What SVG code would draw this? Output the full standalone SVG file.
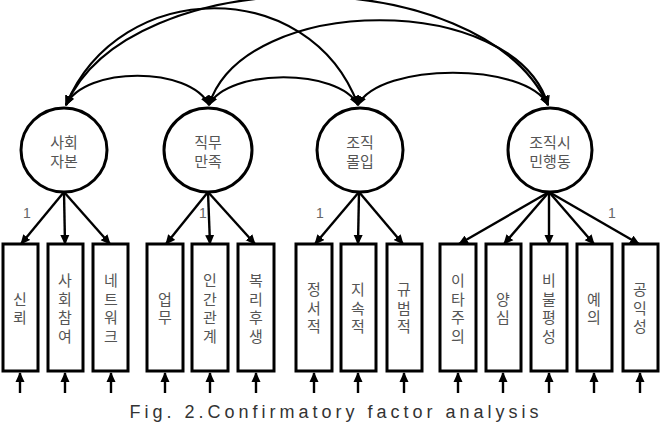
<svg xmlns="http://www.w3.org/2000/svg" width="665" height="426" viewBox="0 0 665 426">
<style>
.ell{fill:#fff;stroke:#000;stroke-width:3}
.box{fill:#fff;stroke:#000;stroke-width:3}
.arc{fill:none;stroke:#000;stroke-width:2.2}
.ld{fill:none;stroke:#000;stroke-width:2.4}
.lbl{font-family:"Noto Sans CJK KR",sans-serif;font-size:15px;fill:#555;text-anchor:middle}
.vt{font-family:"Noto Sans CJK KR",sans-serif;font-size:15px;fill:#555;text-anchor:middle;writing-mode:vertical-rl;text-orientation:upright;letter-spacing:3.5px}
.one{font-family:"Liberation Sans",sans-serif;font-size:14px;fill:#666;text-anchor:middle}
.cap{font-family:"Liberation Sans",sans-serif;font-size:18px;fill:#333;text-anchor:middle;letter-spacing:4px}
</style>
<defs>
<marker id="ah" markerUnits="userSpaceOnUse" markerWidth="10" markerHeight="10" viewBox="0 0 10 10" refX="9" refY="5" orient="auto-start-reverse">
<path d="M0,0.5 L10,5 L0,9.5 Z" fill="#000"/>
</marker>
</defs>
<g id="connectors">
<path class="arc" d="M66 105 C85 66 190 66 209 105" marker-start="url(#ah)" marker-end="url(#ah)"/>
<path class="arc" d="M209 105 C228 68 339 68 358 105" marker-start="url(#ah)" marker-end="url(#ah)"/>
<path class="arc" d="M358 105 C380 62 526 62 548 105" marker-start="url(#ah)" marker-end="url(#ah)"/>
<path class="arc" d="M66 105 C120 -24 310 -24 358 105" marker-start="url(#ah)" marker-end="url(#ah)"/>
<path class="arc" d="M209 105 C245 -8 515 -8 548 105" marker-start="url(#ah)" marker-end="url(#ah)"/>
<path class="arc" d="M66 105 C130 -40 480 -40 548 105" marker-start="url(#ah)" marker-end="url(#ah)"/>
<line class="ld" x1="64" y1="192" x2="21" y2="244" marker-end="url(#ah)"/>
<line class="ld" x1="64" y1="192" x2="65" y2="244" marker-end="url(#ah)"/>
<line class="ld" x1="64" y1="192" x2="110" y2="244" marker-end="url(#ah)"/>
<line class="ld" x1="208" y1="192" x2="166" y2="244" marker-end="url(#ah)"/>
<line class="ld" x1="208" y1="192" x2="210" y2="244" marker-end="url(#ah)"/>
<line class="ld" x1="208" y1="192" x2="255" y2="244" marker-end="url(#ah)"/>
<line class="ld" x1="359" y1="192" x2="315" y2="244" marker-end="url(#ah)"/>
<line class="ld" x1="359" y1="192" x2="358" y2="244" marker-end="url(#ah)"/>
<line class="ld" x1="359" y1="192" x2="403" y2="244" marker-end="url(#ah)"/>
<line class="ld" x1="549" y1="192" x2="459" y2="244" marker-end="url(#ah)"/>
<line class="ld" x1="549" y1="192" x2="504" y2="244" marker-end="url(#ah)"/>
<line class="ld" x1="549" y1="192" x2="549" y2="244" marker-end="url(#ah)"/>
<line class="ld" x1="549" y1="192" x2="594" y2="244" marker-end="url(#ah)"/>
<line class="ld" x1="549" y1="192" x2="639" y2="244" marker-end="url(#ah)"/>
<line class="ld" x1="20" y1="393" x2="20" y2="373" marker-end="url(#ah)"/>
<line class="ld" x1="65" y1="393" x2="65" y2="373" marker-end="url(#ah)"/>
<line class="ld" x1="111" y1="393" x2="111" y2="373" marker-end="url(#ah)"/>
<line class="ld" x1="165" y1="393" x2="165" y2="373" marker-end="url(#ah)"/>
<line class="ld" x1="210" y1="393" x2="210" y2="373" marker-end="url(#ah)"/>
<line class="ld" x1="256" y1="393" x2="256" y2="373" marker-end="url(#ah)"/>
<line class="ld" x1="314" y1="393" x2="314" y2="373" marker-end="url(#ah)"/>
<line class="ld" x1="358" y1="393" x2="358" y2="373" marker-end="url(#ah)"/>
<line class="ld" x1="404" y1="393" x2="404" y2="373" marker-end="url(#ah)"/>
<line class="ld" x1="458" y1="393" x2="458" y2="373" marker-end="url(#ah)"/>
<line class="ld" x1="503" y1="393" x2="503" y2="373" marker-end="url(#ah)"/>
<line class="ld" x1="549" y1="393" x2="549" y2="373" marker-end="url(#ah)"/>
<line class="ld" x1="594" y1="393" x2="594" y2="373" marker-end="url(#ah)"/>
<line class="ld" x1="640" y1="393" x2="640" y2="373" marker-end="url(#ah)"/>
<text class="one" x="27" y="218">1</text>
<text class="one" x="203" y="218">1</text>
<text class="one" x="320" y="218">1</text>
<text class="one" x="612" y="218">1</text>
</g>
<g id="f1"><ellipse class="ell" cx="64" cy="150" rx="43" ry="42"/><text class="lbl" x="64" y="148">사회</text><text class="lbl" x="64" y="167">자본</text></g>
<g id="f2"><ellipse class="ell" cx="208" cy="150" rx="44" ry="42"/><text class="lbl" x="208" y="148">직무</text><text class="lbl" x="208" y="167">만족</text></g>
<g id="f3"><ellipse class="ell" cx="360" cy="150" rx="43" ry="42"/><text class="lbl" x="360" y="148">조직</text><text class="lbl" x="360" y="167">몰입</text></g>
<g id="f4"><ellipse class="ell" cx="550" cy="150" rx="42" ry="42"/><text class="lbl" x="550" y="148">조직시</text><text class="lbl" x="550" y="167">민행동</text></g>
<g id="v1"><rect class="box" x="3" y="244" width="35" height="127"/><text class="vt" x="20" y="310">신뢰</text></g>
<g id="v2"><rect class="box" x="48" y="244" width="35" height="127"/><text class="vt" x="65" y="310">사회참여</text></g>
<g id="v3"><rect class="box" x="93" y="244" width="35" height="127"/><text class="vt" x="111" y="310">네트워크</text></g>
<g id="v4"><rect class="box" x="147" y="244" width="36" height="127"/><text class="vt" x="165" y="310">업무</text></g>
<g id="v5"><rect class="box" x="192" y="244" width="36" height="127"/><text class="vt" x="210" y="310">인간관계</text></g>
<g id="v6"><rect class="box" x="238" y="244" width="36" height="127"/><text class="vt" x="256" y="310">복리후생</text></g>
<g id="v7"><rect class="box" x="296" y="244" width="36" height="127"/><text class="vt" x="314" y="310">정서적</text></g>
<g id="v8"><rect class="box" x="341" y="244" width="35" height="127"/><text class="vt" x="358" y="310">지속적</text></g>
<g id="v9"><rect class="box" x="387" y="244" width="35" height="127"/><text class="vt" x="404" y="310">규범적</text></g>
<g id="v10"><rect class="box" x="440" y="244" width="36" height="127"/><text class="vt" x="458" y="310">이타주의</text></g>
<g id="v11"><rect class="box" x="486" y="244" width="35" height="127"/><text class="vt" x="503" y="310">양심</text></g>
<g id="v12"><rect class="box" x="531" y="244" width="36" height="127"/><text class="vt" x="549" y="310">비불평성</text></g>
<g id="v13"><rect class="box" x="577" y="244" width="35" height="127"/><text class="vt" x="594" y="310">예의</text></g>
<g id="v14"><rect class="box" x="623" y="244" width="35" height="127"/><text class="vt" x="640" y="310">공익성</text></g>
<text class="cap" x="336" y="418">Fig. 2.Confirmatory factor analysis</text>
</svg>
